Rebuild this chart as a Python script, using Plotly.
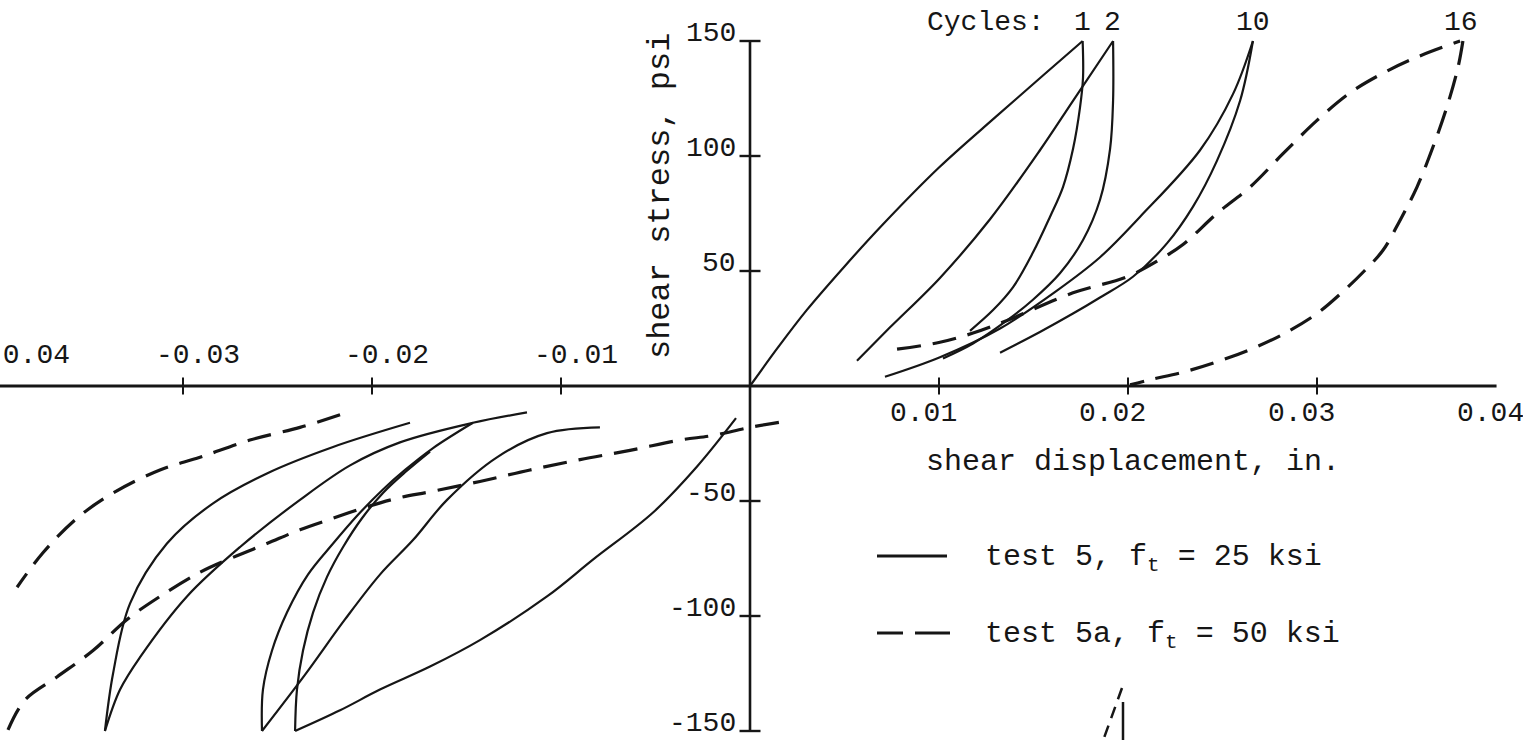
import plotly.graph_objects as go

# ---------------- data (shear displacement in., shear stress psi) ----------------
# test 5 (solid) - positive half cycles
c1_load_x = [0, 0.0015, 0.0030, 0.0050, 0.0070, 0.0100, 0.0130, 0.0155, 0.0176]
c1_load_y = [0, 17, 33, 52, 70, 95, 117, 135, 150]
c1_unload_x = [0.0176, 0.01762, 0.01746, 0.01709, 0.01656, 0.01587, 0.01497, 0.01392, 0.01286, 0.01164]
c1_unload_y = [150, 134, 121, 103, 86.5, 73.5, 58, 43, 33, 24]
c2_load_x = [0.00566, 0.00741, 0.01005, 0.01270, 0.01534, 0.01709, 0.01921]
c2_load_y = [11, 25.5, 47, 72.5, 102.5, 124, 150]
c2_unload_x = [0.01921, 0.01921, 0.01905, 0.01852, 0.01762, 0.01640, 0.01497, 0.01360, 0.01180, 0.01021]
c2_unload_y = [150, 124, 103, 81, 63.5, 49, 37.5, 28.5, 18.5, 12]
c10_load_x = [0.00714, 0.01005, 0.01323, 0.01624, 0.01852, 0.02063, 0.02381, 0.02556, 0.02661]
c10_load_y = [4, 12.5, 25, 41.5, 56, 73.5, 102.5, 127, 150]
c10_unload_x = [0.02661, 0.02593, 0.02471, 0.02344, 0.02206, 0.02026, 0.01852, 0.01709, 0.01534, 0.01323]
c10_unload_y = [150, 124, 98, 78, 62, 47.5, 38.5, 31.5, 23.5, 14.5]

# test 5 (solid) - negative half cycles
n1_load_x = [-0.00074, -0.00280, -0.00513, -0.00831, -0.01074, -0.01429, -0.01693, -0.01958, -0.02169, -0.02407]
n1_load_y = [-14, -35, -55, -75.5, -91.5, -110.5, -122, -132, -141, -150]
n1_unload_x = [-0.02407, -0.02397, -0.02365, -0.02312, -0.02238, -0.02153, -0.02053, -0.01942, -0.01825, -0.01693]
n1_unload_y = [-150, -132, -115, -98.5, -83, -70, -57.5, -46.5, -37.5, -28.5]
n2_load_x = [-0.00794, -0.01074, -0.01339, -0.01603, -0.01783, -0.01958, -0.02143, -0.02354, -0.02582]
n2_load_y = [-18, -20.5, -31, -49.5, -67, -82, -101.5, -125.5, -150]
n2_unload_x = [-0.02582, -0.02577, -0.02529, -0.02450, -0.02339, -0.02206, -0.02074, -0.01942, -0.01825, -0.01677, -0.01466]
n2_unload_y = [-150, -132, -115, -98.5, -82, -68.5, -56, -45, -36.5, -27, -16]
n10_load_x = [-0.01799, -0.02206, -0.02556, -0.02841, -0.03085, -0.03280, -0.03370, -0.03413]
n10_load_y = [-16, -26.5, -38, -51, -68.5, -94.5, -125, -150]
n10_unload_x = [-0.03413, -0.03333, -0.03228, -0.02979, -0.02698, -0.02381, -0.02116, -0.01852, -0.01466, -0.01180]
n10_unload_y = [-150, -132, -118, -91.5, -70, -49.5, -34.5, -24.5, -16, -11.5]

# test 5a (dashed)
d16_load_x = [0.00778, 0.01005, 0.01180, 0.01360, 0.01709, 0.01995, 0.02169, 0.02291, 0.02471,
              0.02646, 0.02820, 0.03000, 0.03175, 0.03349, 0.03529, 0.03757]
d16_load_y = [16, 19, 23, 28.5, 40.5, 47.5, 55, 61.5, 75, 86.5, 101, 115.5, 127.5, 136, 143, 150]
d16_unload_x = [0.03772, 0.03746, 0.03688, 0.03614, 0.03529, 0.03439, 0.03349, 0.0325, 0.0313,
                0.0300, 0.0282, 0.0265, 0.0247, 0.0229, 0.0212, 0.02011]
d16_unload_y = [150, 138.5, 121.5, 104, 86.5, 72, 59, 50, 40.5, 31.5, 22.5, 16, 10.5, 6, 2.8, 0.5]
dn16_load_x = [-0.02169, -0.02381, -0.02646, -0.02910, -0.03122, -0.03370, -0.03561, -0.03741, -0.03878]
dn16_load_y = [-12.5, -18, -23.5, -31, -36.5, -46.5, -57.5, -72.5, -87.5]
dn16_unload_x = [-0.03926, -0.03836, -0.03667, -0.03476, -0.03296, -0.03122, -0.02910, -0.02735,
                 -0.02556, -0.02381, -0.02206, -0.02026, -0.01852, -0.01693, -0.01429, -0.01164,
                 -0.00899, -0.00635, -0.00370, -0.00196, 0.0, 0.00212]
dn16_unload_y = [-149.5, -136.5, -126.5, -115, -101.5, -91.5, -81, -74.5, -68.5, -62.5, -57.5,
                 -52.5, -48.5, -46, -41.5, -36.5, -32, -28, -23.5, -21.5, -18, -15]

# axis ticks and labels
x_ticks = [-0.03, -0.02, -0.01, 0.01, 0.02, 0.03]
x_label_vals = [-0.04, -0.03, -0.02, -0.01, 0.01, 0.02, 0.03, 0.04]
x_label_text = ["-0.04", "-0.03", "-0.02", "-0.01", "0.01", "0.02", "0.03", "0.04"]
y_ticks = [-150, -100, -50, 50, 100, 150]
y_label_text = ["-150", "-100", "-50", "50", "100", "150"]
cycle_labels = ["1", "2", "10", "16"]
cycle_peak_x = [0.0176, 0.0192, 0.0266, 0.0376]

# ---------------- figure ----------------
INK = "#161616"
FONT = "Liberation Mono, Courier New, monospace"


def join(segs):
    xs, ys = [], []
    for sx, sy in segs:
        xs += list(sx) + [None]
        ys += list(sy) + [None]
    return xs, ys


solid_x, solid_y = join([
    (c1_load_x, c1_load_y), (c1_unload_x, c1_unload_y),
    (c2_load_x, c2_load_y), (c2_unload_x, c2_unload_y),
    (c10_load_x, c10_load_y), (c10_unload_x, c10_unload_y),
    (n1_load_x, n1_load_y), (n1_unload_x, n1_unload_y),
    (n2_load_x, n2_load_y), (n2_unload_x, n2_unload_y),
    (n10_load_x, n10_load_y), (n10_unload_x, n10_unload_y),
])
dash_x, dash_y = join([
    (d16_load_x, d16_load_y), (d16_unload_x, d16_unload_y),
    (dn16_load_x, dn16_load_y), (dn16_unload_x, dn16_unload_y),
])

fig = go.Figure()

# axes drawn through the origin
fig.add_trace(go.Scatter(x=[-0.0397, 0.0395], y=[0, 0], mode="lines",
                         line=dict(color=INK, width=2.8), hoverinfo="skip", showlegend=False))
fig.add_trace(go.Scatter(x=[0, 0], y=[-150, 150], mode="lines",
                         line=dict(color=INK, width=2.6), hoverinfo="skip", showlegend=False))
fig.add_trace(go.Scatter(x=x_ticks, y=[0] * len(x_ticks), mode="markers",
                         marker=dict(symbol="line-ns", size=12, line=dict(color=INK, width=2)),
                         hoverinfo="skip", showlegend=False))
fig.add_trace(go.Scatter(x=[0] * len(y_ticks), y=y_ticks, mode="markers",
                         marker=dict(symbol="line-ew", size=15, line=dict(color=INK, width=2.4)),
                         hoverinfo="skip", showlegend=False))

fig.add_trace(go.Scatter(x=solid_x, y=solid_y, mode="lines", name="test 5, f_t = 25 ksi",
                         line=dict(color=INK, width=2.2, shape="spline", smoothing=1.0),
                         connectgaps=False, showlegend=False))
fig.add_trace(go.Scatter(x=dash_x, y=dash_y, mode="lines", name="test 5a, f_t = 50 ksi",
                         line=dict(color=INK, width=3.2, dash="24px,12px", shape="spline", smoothing=1.0),
                         connectgaps=False, showlegend=False))

ann = []
for v, t in zip(x_label_vals, x_label_text):
    if v < 0:
        ann.append(dict(x=max(v + 0.0008, -0.0382), y=0, text=t, showarrow=False, yshift=31,
                        font=dict(family=FONT, size=28, color=INK)))
    else:
        ann.append(dict(x=v - 0.0008, y=0, text=t, showarrow=False, yshift=-27,
                        font=dict(family=FONT, size=28, color=INK)))
for v, t in zip(y_ticks, y_label_text):
    ann.append(dict(x=0, y=v, text=t, showarrow=False, xanchor="right", xshift=-12, yshift=8,
                    font=dict(family=FONT, size=28, color=INK)))
for v, t in zip(cycle_peak_x, cycle_labels):
    ann.append(dict(x=v, y=158, text=t, showarrow=False,
                    font=dict(family=FONT, size=28, color=INK)))
ann.append(dict(x=0.0125, y=158, text="Cycles:", showarrow=False,
                font=dict(family=FONT, size=28, color=INK)))
ann.append(dict(x=0.02026, y=-33, text="shear displacement, in.", showarrow=False,
                font=dict(family=FONT, size=30, color=INK)))
ann.append(dict(x=-0.00476, y=82.6, text="shear stress, psi", showarrow=False, textangle=-90,
                font=dict(family=FONT, size=32, color=INK)))
ann.append(dict(xref="paper", yref="paper", x=983 / 1523, y=1 - 558 / 740, xanchor="left",
                yanchor="middle", text="test 5, f<sub>t</sub> = 25 ksi", showarrow=False,
                font=dict(family=FONT, size=30, color=INK)))
ann.append(dict(xref="paper", yref="paper", x=983 / 1523, y=1 - 635 / 740, xanchor="left",
                yanchor="middle", text="test 5a, f<sub>t</sub> = 50 ksi", showarrow=False,
                font=dict(family=FONT, size=30, color=INK)))

shapes = [
    dict(type="line", xref="paper", yref="paper", x0=877 / 1523, x1=947 / 1523,
         y0=1 - 556 / 740, y1=1 - 556 / 740, line=dict(color=INK, width=3)),
    dict(type="line", xref="paper", yref="paper", x0=877 / 1523, x1=903 / 1523,
         y0=1 - 633 / 740, y1=1 - 633 / 740, line=dict(color=INK, width=3)),
    dict(type="line", xref="paper", yref="paper", x0=915 / 1523, x1=950 / 1523,
         y0=1 - 633 / 740, y1=1 - 633 / 740, line=dict(color=INK, width=3)),
    # fragment at the bottom edge of the scan
    dict(type="line", xref="paper", yref="paper", x0=1122 / 1523, x1=1104 / 1523,
         y0=1 - 688 / 740, y1=1 - 738 / 740, line=dict(color=INK, width=2.5, dash="12px,8px")),
    dict(type="line", xref="paper", yref="paper", x0=1123 / 1523, x1=1123 / 1523,
         y0=1 - 702 / 740, y1=0, line=dict(color=INK, width=2.5)),
]

fig.update_layout(
    width=1523, height=740,
    margin=dict(l=0, r=0, t=0, b=0, pad=0),
    paper_bgcolor="white", plot_bgcolor="white",
    xaxis=dict(range=[-750 / 18900, 773 / 18900], visible=False, fixedrange=True),
    yaxis=dict(range=[-354 / 2.3, 386 / 2.3], visible=False, fixedrange=True),
    annotations=ann, shapes=shapes, showlegend=False,
)

fig.write_html("out.html")
